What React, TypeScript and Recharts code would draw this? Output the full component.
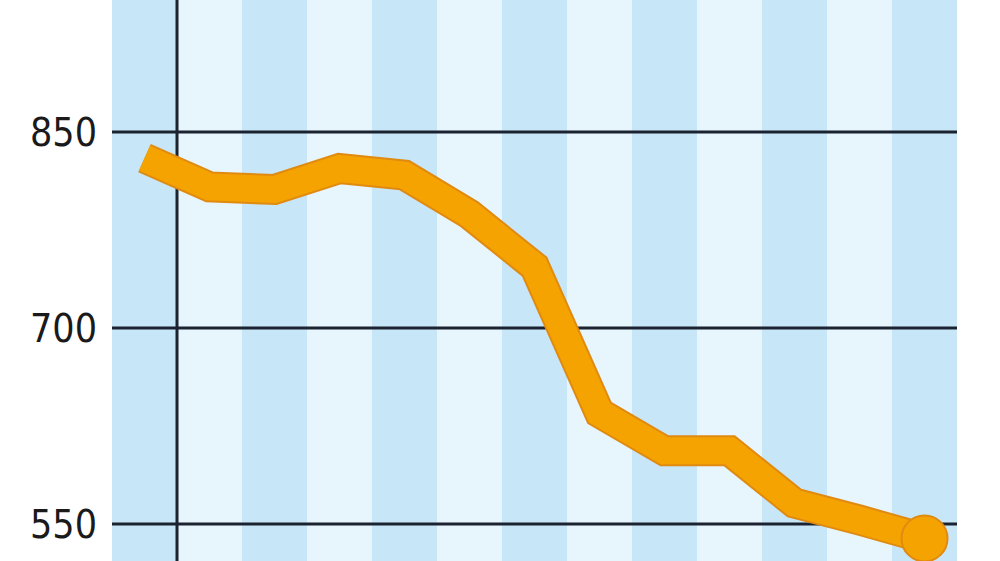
import {
  Bar, Cell, ComposedChart, Line, ReferenceLine, XAxis, YAxis,
} from "recharts";

// thirteen periods, no labels shown on the x axis
const periods = ["1", "2", "3", "4", "5", "6", "7", "8", "9", "10", "11", "12", "13"];
const values = [830, 808, 806, 822, 817, 787, 747, 635, 606, 606, 566, 553, 539];
const yTicks = [550, 700, 850];

const Y_MIN = 521.7;
const Y_MAX = 951;

const ORANGE = "#f5a300";
const ORANGE_EDGE = "#e08a10";
const STRIPE_DARK = "#c7e6f8";
const STRIPE_LIGHT = "#e7f5fd";
const INK = "#1b2230";

const data = periods.map((p, i) => ({ period: p, value: values[i], stripe: Y_MAX }));

function EndDot(props: any) {
  const { cx, cy, index } = props;
  if (index !== values.length - 1) return <g key={`d${index}`} />;
  return <circle key={`d${index}`} cx={cx} cy={cy} r={23} fill={ORANGE} stroke={ORANGE_EDGE} strokeWidth={2} />;
}

export default function App() {
  return (
    <div style={{ position: "absolute", left: 0, top: 0, width: 1000, height: 561, background: "#fff" }}>
      <ComposedChart
        width={1000}
        height={561}
        data={data}
        margin={{ top: 0, right: 43, left: 0, bottom: 0 }}
        barCategoryGap={0}
        barGap={0}
      >
        <XAxis dataKey="period" hide />
        <YAxis
          domain={[Y_MIN, Y_MAX]}
          allowDataOverflow
          ticks={yTicks}
          width={112}
          axisLine={false}
          tickLine={false}
          tickSize={0}
          tickMargin={15}
          tick={{ fill: "#1a1a1a", fontSize: 39, fontFamily: "DejaVu Sans Condensed" }}
        />
        <Bar dataKey="stripe" isAnimationActive={false}>
          {data.map((_, i) => (
            <Cell key={i} fill={i % 2 === 0 ? STRIPE_DARK : STRIPE_LIGHT} />
          ))}
        </Bar>
        {yTicks.map((t) => (
          <ReferenceLine key={t} y={t} stroke={INK} strokeWidth={3} />
        ))}
        <ReferenceLine x={periods[1]} position="start" stroke={INK} strokeWidth={3} />
        <Line
          type="linear"
          dataKey="value"
          stroke={ORANGE_EDGE}
          strokeWidth={31}
          strokeLinejoin="miter"
          dot={false}
          activeDot={false}
          isAnimationActive={false}
        />
        <Line
          type="linear"
          dataKey="value"
          stroke={ORANGE}
          strokeWidth={27}
          strokeLinejoin="miter"
          dot={EndDot}
          activeDot={false}
          isAnimationActive={false}
        />
      </ComposedChart>
    </div>
  );
}
